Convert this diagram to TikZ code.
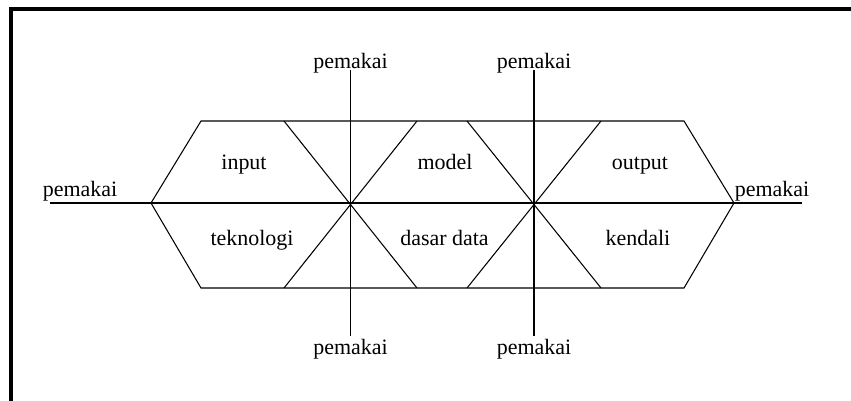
\documentclass[tikz,border=0pt]{standalone}
\usepackage{fontspec}
\setmainfont{Liberation Serif}
\tikzset{
  lbl/.style={anchor=base, inner sep=0pt, font=\fontsize{12.5}{14}\selectfont},
  thin line/.style={line width=0.6pt},
}
\begin{document}
\begin{tikzpicture}[x=0.02cm,y=-0.02cm]
        \useasboundingbox (0,0) rectangle (851,400);
        \draw[line width=1.8pt] (11,402) -- (11,9) -- (853,9);
        \coordinate (L) at (151, 203) {};
        \coordinate (R) at (734, 203) {};
        \coordinate (TL) at (201, 121) {};
        \coordinate (TR) at (684, 121) {};
        \coordinate (BL) at (201, 288) {};
        \coordinate (BR) at (684, 288) {};
        \coordinate (T1) at (284, 121) {};
        \coordinate (T2) at (417, 121) {};
        \coordinate (T3) at (467, 121) {};
        \coordinate (T4) at (601, 121) {};
        \coordinate (B1) at (284, 288) {};
        \coordinate (B2) at (417, 288) {};
        \coordinate (B3) at (467, 288) {};
        \coordinate (B4) at (601, 288) {};
        \coordinate (X1) at (350.5, 203) {};
        \coordinate (X2) at (534, 203) {};
        \coordinate (Lend) at (50, 203) {};
        \coordinate (Rend) at (802, 203) {};
        \coordinate (V1top) at (350.5, 70) {};
        \coordinate (V1bot) at (350.5, 336) {};
        \coordinate (V2top) at (534, 70) {};
        \coordinate (V2bot) at (534, 336) {};
        % labels
        \node[lbl] (pLeft) at (80, 196) {pemakai};
        \node[lbl] (pRight) at (772, 196) {pemakai};
        \node[lbl] (pTopA) at (350.5, 68) {pemakai};
        \node[lbl] (pTopB) at (534, 68) {pemakai};
        \node[lbl] (pBotA) at (350.5, 354) {pemakai};
        \node[lbl] (pBotB) at (534, 354) {pemakai};
        \node[lbl] (input) at (244, 169) {input};
        \node[lbl] (model) at (445, 169) {model};
        \node[lbl] (output) at (640, 169) {output};
        \node[lbl] (teknologi) at (252, 245) {teknologi};
        \node[lbl] (dasar) at (444.5, 245) {dasar data};
        \node[lbl] (kendali) at (638, 245) {kendali};
        % hexagon and cross lines
        \draw[thin line] (L)--(TL)--(TR)--(R)--(BR)--(BL)--cycle;
        \draw[thin line] (Lend)--(L)--(R)--(Rend);
        \draw[thin line] (T1)--(B2);
        \draw[thin line] (T2)--(B1);
        \draw[thin line] (T3)--(B4);
        \draw[thin line] (T4)--(B3);
        \draw[thin line] (V1top)--(V1bot);
        \draw[thin line] (V2top)--(V2bot);
\end{tikzpicture}
\end{document}
